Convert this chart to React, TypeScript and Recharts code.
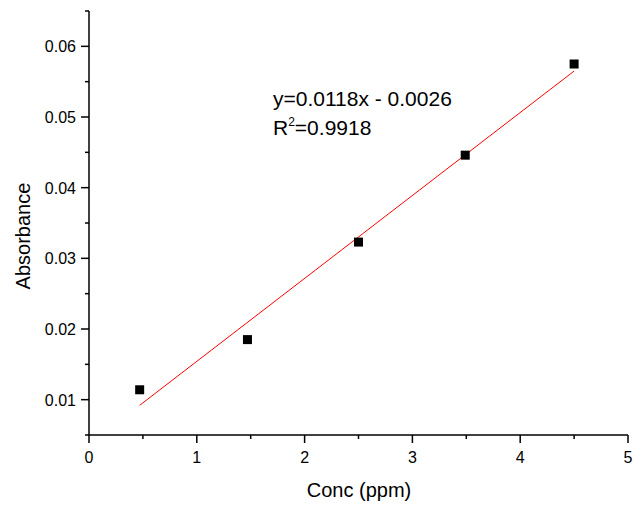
import { ComposedChart, Scatter, XAxis, YAxis, Customized } from 'recharts';

document.body.style.margin = '0';

const FONT = '"Liberation Sans", Arial, sans-serif';

// measured points
const concValues = [0.47, 1.47, 2.5, 3.49, 4.5];
const absValues = [0.0114, 0.0185, 0.0323, 0.0446, 0.0575];

// fitted line end points, as drawn
const fitConc = [0.47, 4.5];
const fitAbs = [0.0092, 0.0565];

const xTicks = [0, 0.5, 1, 1.5, 2, 2.5, 3, 3.5, 4, 4.5, 5];
const yTicks = [0.005, 0.01, 0.015, 0.02, 0.025, 0.03, 0.035, 0.04, 0.045, 0.05, 0.055, 0.06, 0.065];

const xTitle = 'Conc (ppm)';
const yTitle = 'Absorbance';
const equation = 'y=0.0118x - 0.0026';
const rSquared = '=0.9918';

const points = concValues.map((x, i) => ({ x, y: absValues[i] }));
const fitLine = fitConc.map((x, i) => ({ x, y: fitAbs[i] }));

const isMajorY = (v: number) => Math.round(v * 1000) % 10 === 0;
const isMajorX = (v: number) => Math.abs(v - Math.round(v)) < 1e-9;

const YTick = (props: any) => {
  const { x, y, payload } = props;
  const major = isMajorY(payload.value);
  return (
    <g>
      <line x1={x - (major ? 8 : 4)} x2={x} y1={y} y2={y} stroke="#000" strokeWidth={1.5} />
      {major && (
        <text x={x - 13} y={y + 6} textAnchor="end" fontSize={16} fontFamily={FONT} fill="#000">
          {payload.value.toFixed(2)}
        </text>
      )}
    </g>
  );
};

const XTick = (props: any) => {
  const { x, y, payload } = props;
  const major = isMajorX(payload.value);
  return (
    <g>
      <line x1={x} x2={x} y1={y} y2={y + (major ? 8 : 4)} stroke="#000" strokeWidth={1.5} />
      {major && (
        <text x={x} y={y + 28} textAnchor="middle" fontSize={16} fontFamily={FONT} fill="#000">
          {payload.value}
        </text>
      )}
    </g>
  );
};

const SquareDot = (props: any) => {
  const { cx, cy } = props;
  return <rect x={cx - 4.5} y={cy - 4.5} width={9} height={9} fill="#000" />;
};

const NoDot = () => <g />;

const Annotations = () => (
  <g fontFamily={FONT} fill="#000">
    <text x={359} y={497} textAnchor="middle" fontSize={20}>{xTitle}</text>
    <text transform="translate(30,236) rotate(-90)" textAnchor="middle" fontSize={20}>{yTitle}</text>
    <text x={273} y={106} fontSize={21}>{equation}</text>
    <text x={273} y={135} fontSize={21}>
      R<tspan dy={-9} fontSize={12}>2</tspan><tspan dy={9}>{rSquared}</tspan>
    </text>
  </g>
);

export default function App() {
  return (
    <div style={{ width: 634, height: 506, background: '#fff' }}>
      <ComposedChart width={634} height={506} margin={{ top: 11, right: 6, bottom: 0, left: 0 }}>
        <XAxis
          type="number"
          dataKey="x"
          domain={[0, 5]}
          ticks={xTicks}
          interval={0}
          height={71}
          tickSize={0}
          tickMargin={0}
          tickLine={false}
          axisLine={{ stroke: '#000', strokeWidth: 1.5 }}
          tick={<XTick />}
          allowDataOverflow
        />
        <YAxis
          type="number"
          dataKey="y"
          domain={[0.005, 0.065]}
          ticks={yTicks}
          interval={0}
          width={89}
          tickSize={0}
          tickMargin={0}
          tickLine={false}
          axisLine={{ stroke: '#000', strokeWidth: 1.5 }}
          tick={<YTick />}
          allowDataOverflow
        />
        <Scatter
          data={fitLine}
          line={{ stroke: '#ff0000', strokeWidth: 1 }}
          shape={<NoDot />}
          isAnimationActive={false}
        />
        <Scatter data={points} shape={<SquareDot />} isAnimationActive={false} />
        <Customized component={Annotations} />
      </ComposedChart>
    </div>
  );
}
